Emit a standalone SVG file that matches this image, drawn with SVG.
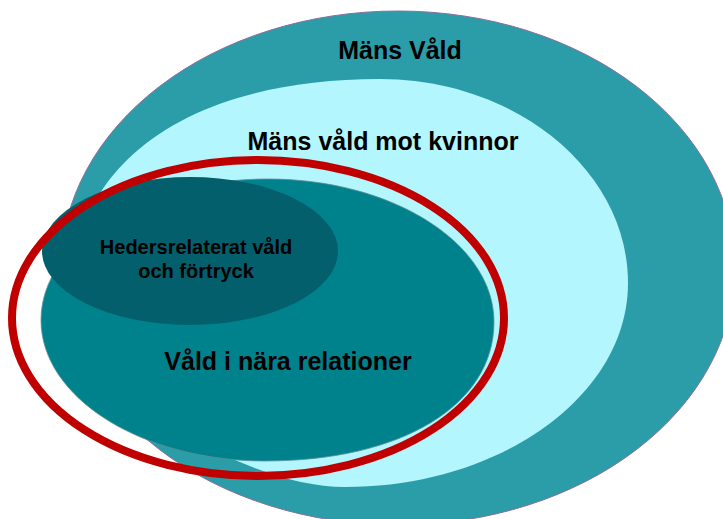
<svg xmlns="http://www.w3.org/2000/svg" width="723" height="519" viewBox="0 0 723 519">
  <style>
    .lbl { font-family: "Liberation Sans", Arial, sans-serif; font-weight: bold; fill: #000; text-anchor: middle; }
    .big { font-size: 25px; }
    .small { font-size: 20px; }
  </style>
  <rect width="723" height="519" fill="#ffffff"/>
  <g id="mans-vald">
    <ellipse cx="398" cy="268" rx="337" ry="257" fill="#2A9DA8" stroke="#8C6FA0" stroke-width="1"/>
    <text class="lbl big" x="400" y="59">Mäns Våld</text>
  </g>
  <g id="mans-vald-mot-kvinnor">
    <path d="M 380 79 C 516 79, 628 171, 628 283 C 628 395, 501 487, 345 487 C 235 487, 70 375, 70 300 C 70 163, 188 79, 380 79 Z" fill="#B3F6FD"/>
    <text class="lbl big" x="383" y="150">Mäns våld mot kvinnor</text>
  </g>
  <g id="vald-i-nara-relationer">
    <path d="M 494 322 C 494 405, 402 461, 265 461 C 142 461, 41 398, 41 320 C 41 242, 143 179, 268 179 C 392 179, 494 243, 494 322 Z" fill="#00828D" stroke="#5f8f94" stroke-width="0.8"/>
    <text class="lbl big" x="288" y="370">Våld i nära relationer</text>
  </g>
  <g id="hedersrelaterat">
    <ellipse cx="190" cy="251" rx="148" ry="74" fill="#035F6B"/>
    <text class="lbl small" x="196" y="254">Hedersrelaterat våld</text>
    <text class="lbl small" x="196" y="278">och förtryck</text>
  </g>
  <g id="markering">
    <ellipse cx="258" cy="318" rx="246" ry="158" fill="none" stroke="#C00000" stroke-width="8"/>
  </g>
</svg>
